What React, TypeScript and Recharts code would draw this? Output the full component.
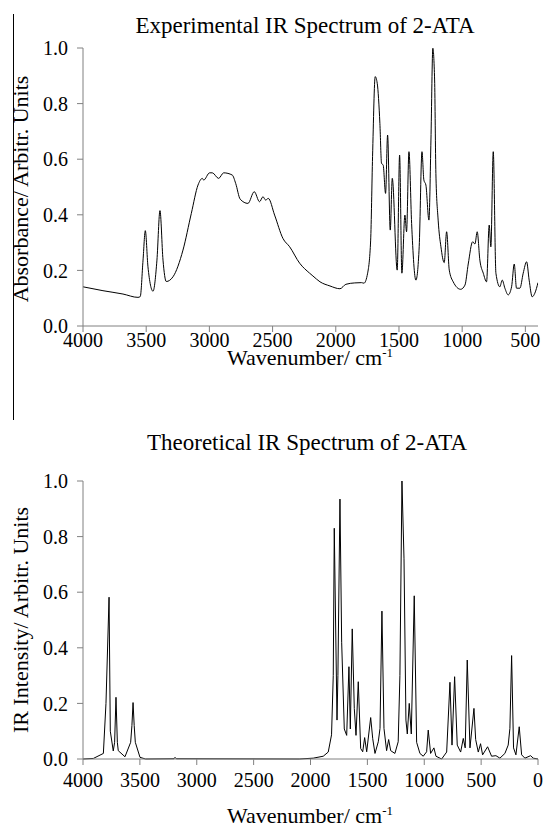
// IR spectra of 2-ATA — experimental vs theoretical
import React from "react"
import { LineChart, Line, XAxis, YAxis } from "recharts"

const expWavenumber = [
  4000, 3842, 3684, 3565, 3547, 3525, 3507, 3486, 3446, 3415, 3391, 3367, 3341, 3288, 3209, 3143,
  3090, 3056, 3045, 2998, 2977, 2927, 2887, 2819, 2792, 2756, 2695, 2645, 2603, 2576, 2555, 2534,
  2484, 2418, 2365, 2286, 2207, 2181, 2125, 2046, 1967, 1920, 1850, 1796, 1777, 1748, 1724, 1709,
  1688, 1672, 1651, 1638, 1625, 1606, 1590, 1569, 1553, 1514, 1495, 1477, 1453, 1440, 1421, 1400,
  1366, 1340, 1318, 1303, 1287, 1263, 1247, 1232, 1218, 1208, 1190, 1168, 1142, 1123, 1102, 1071,
  1012, 978, 952, 917, 899, 881, 860, 833, 807, 786, 773, 754, 733, 702, 683, 662, 636, 609, 588,
  570, 543, 517, 490, 470, 446, 425, 400,
]
const expAbsorbance = [
  0.141, 0.127, 0.115, 0.103, 0.106, 0.237, 0.343, 0.213, 0.125, 0.237, 0.415, 0.237, 0.16, 0.177,
  0.273, 0.405, 0.507, 0.531, 0.525, 0.551, 0.551, 0.531, 0.551, 0.543, 0.513, 0.456, 0.441, 0.483,
  0.447, 0.465, 0.453, 0.459, 0.399, 0.315, 0.285, 0.226, 0.19, 0.18, 0.159, 0.144, 0.134, 0.15,
  0.155, 0.156, 0.154, 0.19, 0.309, 0.609, 0.897, 0.873, 0.729, 0.585, 0.579, 0.477, 0.687, 0.345,
  0.531, 0.201, 0.615, 0.19, 0.399, 0.339, 0.627, 0.369, 0.165, 0.285, 0.627, 0.525, 0.507, 0.381,
  0.669, 0.999, 0.885, 0.549, 0.381, 0.285, 0.228, 0.339, 0.201, 0.159, 0.132, 0.147, 0.223, 0.303,
  0.295, 0.339, 0.237, 0.19, 0.159, 0.363, 0.285, 0.627, 0.19, 0.141, 0.165, 0.136, 0.112, 0.141,
  0.223, 0.136, 0.136, 0.19, 0.231, 0.165, 0.105, 0.118, 0.156,
]

const theoWavenumber = [
  4000, 3909, 3821, 3798, 3771, 3760, 3734, 3722, 3710, 3698, 3690, 3631, 3581, 3570, 3560, 3550,
  3540, 3499, 3450, 3200, 3191, 3180, 2100, 1976, 1888, 1844, 1815, 1800, 1791, 1779, 1767, 1759,
  1741, 1726, 1703, 1682, 1662, 1650, 1633, 1615, 1600, 1580, 1559, 1541, 1524, 1506, 1471, 1453,
  1433, 1404, 1389, 1372, 1354, 1331, 1313, 1295, 1258, 1229, 1214, 1196, 1178, 1161, 1149, 1132,
  1114, 1088, 1067, 1038, 1009, 979, 965, 944, 915, 897, 847, 803, 774, 756, 733, 710, 680, 657,
  640, 622, 598, 563, 548, 525, 505, 487, 443, 408, 370, 335, 291, 262, 247, 232, 215, 194, 165,
  144, 115, 65, 42, 0,
]
const theoIntensity = [
  0, 0.002, 0.02, 0.2, 0.582, 0.1, 0.029, 0.06, 0.222, 0.06, 0.03, 0.008, 0.06, 0.12, 0.203, 0.12,
  0.06, 0.006, 0, 0.001, 0.006, 0.001, 0, 0.003, 0.01, 0.025, 0.087, 0.3, 0.83, 0.482, 0.14, 0.3,
  0.935, 0.42, 0.108, 0.085, 0.332, 0.108, 0.468, 0.182, 0.085, 0.278, 0.038, 0.026, 0.077, 0.026,
  0.149, 0.073, 0.02, 0.062, 0.11, 0.532, 0.11, 0.03, 0.07, 0.03, 0.02, 0.062, 0.3, 1.0, 0.72, 0.14,
  0.09, 0.2, 0.09, 0.587, 0.06, 0.02, 0.01, 0.026, 0.104, 0.02, 0.04, 0.01, 0, 0.025, 0.276, 0.05,
  0.296, 0.05, 0.025, 0.074, 0.04, 0.356, 0.04, 0.182, 0.07, 0.025, 0.055, 0.015, 0.044, 0.01, 0.012,
  0.003, 0.02, 0.05, 0.11, 0.372, 0.04, 0.015, 0.116, 0.015, 0.003, 0.012, 0.003, 0,
]

const yTicks = [0, 0.2, 0.4, 0.6, 0.8, 1.0]
const expXTicks = [4000, 3500, 3000, 2500, 2000, 1500, 1000, 500]
const theoXTicks = [4000, 3500, 3000, 2500, 2000, 1500, 1000, 500, 0]

const expData = expWavenumber.map((wn, i) => ({ wn, v: expAbsorbance[i] }))
const theoData = theoWavenumber.map((wn, i) => ({ wn, v: theoIntensity[i] }))

const FONT = "'Liberation Serif', 'Times New Roman', serif"
const AXIS = "#808080"
const tickStyle = { fill: "#000", fontSize: 20, fontFamily: FONT }

function Title({ text, top, center }: { text: string; top: number; center: number }) {
  return (
    <div
      style={{
        position: "absolute",
        left: center - 250,
        top,
        width: 500,
        textAlign: "center",
        fontSize: 23,
        lineHeight: 1,
        whiteSpace: "nowrap",
      }}
    >
      {text}
    </div>
  )
}

function XTitle({ top, center }: { top: number; center: number }) {
  return (
    <div
      style={{
        position: "absolute",
        left: center - 150,
        top,
        width: 300,
        textAlign: "center",
        fontSize: 22,
        lineHeight: 1,
      }}
    >
      Wavenumber/ cm<sup style={{ fontSize: 13, lineHeight: 0 }}>-1</sup>
    </div>
  )
}

function YTitle({ text, cx, cy }: { text: string; cx: number; cy: number }) {
  return (
    <div
      style={{
        position: "absolute",
        left: cx - 160,
        top: cy - 12,
        width: 320,
        height: 24,
        lineHeight: "24px",
        textAlign: "center",
        fontSize: 22,
        whiteSpace: "nowrap",
        transform: "rotate(-90deg)",
      }}
    >
      {text}
    </div>
  )
}

export default function App() {
  return (
    <div
      style={{
        position: "absolute",
        left: 0,
        top: 0,
        width: 544,
        height: 831,
        background: "#fff",
        fontFamily: FONT,
        color: "#000",
      }}
    >
      <style>{`.recharts-text, .recharts-cartesian-axis-tick-value { font-family: ${FONT}; }`}</style>

      {/* stray frame line on the left */}
      <div style={{ position: "absolute", left: 13, top: 14, height: 406, borderLeft: "1px solid #000" }} />

      <div style={{ position: "absolute", left: 0, top: 0 }}>
        <LineChart
          width={544}
          height={380}
          data={expData}
          margin={{ top: 48, right: 6, left: 23, bottom: 4 }}
          style={{ fontFamily: FONT }}
        >
          <XAxis
            dataKey="wn"
            type="number"
            domain={[400, 4000]}
            reversed
            ticks={expXTicks}
            allowDataOverflow
            height={50}
            tick={tickStyle}
            tickSize={6}
            tickMargin={1}
            stroke={AXIS}
          />
          <YAxis
            type="number"
            domain={[0, 1]}
            ticks={yTicks}
            tickFormatter={(v) => v.toFixed(1)}
            width={60}
            tick={tickStyle}
            tickSize={6}
            tickMargin={9}
            stroke={AXIS}
          />
          <Line
            dataKey="v"
            type="monotone"
            stroke="#000"
            strokeWidth={1}
            dot={false}
            isAnimationActive={false}
          />
        </LineChart>
      </div>

      <div style={{ position: "absolute", left: 0, top: 440 }}>
        <LineChart
          width={544}
          height={391}
          data={theoData}
          margin={{ top: 41, right: 6, left: 23, bottom: 12 }}
          style={{ fontFamily: FONT }}
        >
          <XAxis
            dataKey="wn"
            type="number"
            domain={[0, 4000]}
            reversed
            ticks={theoXTicks}
            height={60}
            tick={tickStyle}
            tickSize={6}
            tickMargin={8}
            stroke={AXIS}
          />
          <YAxis
            type="number"
            domain={[0, 1]}
            ticks={yTicks}
            tickFormatter={(v) => v.toFixed(1)}
            width={60}
            tick={tickStyle}
            tickSize={6}
            tickMargin={9}
            stroke={AXIS}
          />
          <Line
            dataKey="v"
            type="linear"
            stroke="#000"
            strokeWidth={1}
            dot={false}
            isAnimationActive={false}
          />
        </LineChart>
      </div>

      <Title text="Experimental IR Spectrum of 2-ATA" top={14} center={305} />
      <Title text="Theoretical IR Spectrum of 2-ATA" top={431} center={307} />
      <XTitle top={347} center={310} />
      <XTitle top={805} center={310} />
      <YTitle text="Absorbance/ Arbitr. Units" cx={21} cy={189} />
      <YTitle text="IR Intensity/ Arbitr. Units" cx={21} cy={620} />
    </div>
  )
}
